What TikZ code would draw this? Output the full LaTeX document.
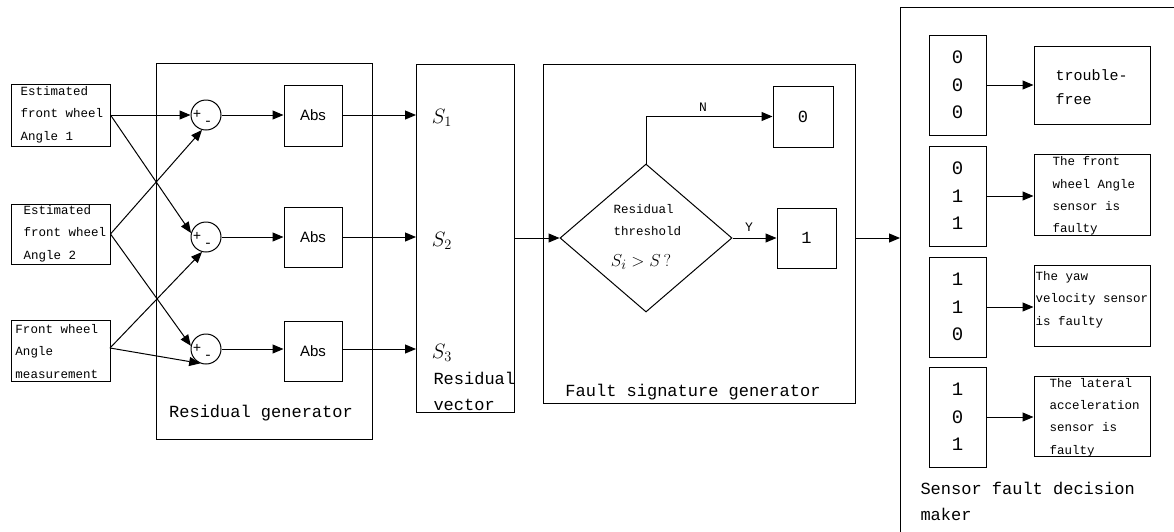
\documentclass[tikz,border=0pt]{standalone}
\usepackage[no-math]{fontspec}
\setmainfont{Liberation Mono}
\newfontfamily\absfont{Liberation Sans}
\usetikzlibrary{shapes.geometric,arrows.meta,calc}
\begin{document}
\begin{tikzpicture}[x=1pt,y=-1pt,line width=1pt,
  box/.style={draw, rectangle, inner sep=0pt},
  arr/.style={-{Triangle[length=11pt,width=9pt]}},
  sm/.style={font=\fontsize{12.5}{22.3}\selectfont, align=left, inner sep=0pt},
  big/.style={font=\fontsize{17}{26}\selectfont, inner sep=0pt},
  sig/.style={font=\fontsize{14}{14}\selectfont, inner sep=0pt},
  slab/.style={font=\fontsize{20}{20}\selectfont, inner sep=0pt}]
\useasboundingbox (0,0) rectangle (1174,531);
\clip (0,0) rectangle (1174,531);

% input boxes
\node[box, minimum width=99pt, minimum height=62pt] (in1) at (60.5,115) {};
\node[sm, anchor=west] (in1t) at (20,114.5) {Estimated\\front wheel\\Angle 1};
\node[box, minimum width=99pt, minimum height=60pt] (in2) at (60.5,234) {};
\node[sm, anchor=west] (in2t) at (23,233.5) {Estimated\\front wheel\\Angle 2};
\node[box, minimum width=99pt, minimum height=61pt] (in3) at (60.5,350.5) {};
\node[sm, anchor=west] (in3t) at (15,351.5) {Front wheel\\Angle\\measurement};

% residual generator
\node[box, minimum width=216pt, minimum height=376pt, anchor=north west] (rg) at (156,63) {};
\node[big] (rgt) at (261,413) {Residual generator};

\foreach \i/\y in {1/115,2/237,3/349}{
  \node[draw, circle, minimum size=30pt, inner sep=0pt] (c\i) at (206,\y) {};
  \node[sig] (p\i) at (197,\y-1) {+};
  \node[sig] (m\i) at (208,\y+8) {-};
}
\node[box, minimum width=58pt, minimum height=61pt, font=\absfont\fontsize{15}{15}\selectfont] (a1) at (313,115.5) {Abs};
\node[box, minimum width=58pt, minimum height=60pt, font=\absfont\fontsize{15}{15}\selectfont] (a2) at (313,237) {Abs};
\node[box, minimum width=58pt, minimum height=60pt, font=\absfont\fontsize{15}{15}\selectfont] (a3) at (313,351) {Abs};

% input connections
\draw[arr] (in1.east) -- (c1.west);
\draw[arr] (in1.east) -- (c2.165);
\draw[arr] (in2.east) -- (c1.-105);
\draw[arr] (in2.east) -- (c3.168);
\coordinate (in3o) at (110,348);
\draw[arr] (in3o) -- (c2.-105);
\draw[arr] (in3o) -- (c3.-112);

\foreach \i in {1,2,3}{
  \draw[arr] (c\i.east) -- (c\i.east -| a\i.west);
}

% residual vector
\node[box, minimum width=98pt, minimum height=348pt, anchor=north west] (rv) at (416,64) {};
\foreach \i in {1,2,3}{
  \draw[arr] (c\i -| a\i.east) -- (c\i -| rv.west);
}
\node[slab] (sl1) at (442,118) {$S_1$};
\node[slab] (sl2) at (442,241) {$S_2$};
\node[slab] (sl3) at (442,353) {$S_3$};
\node[big, align=left, anchor=west] (rvt) at (433,391) {Residual\\vector};

% fault signature generator
\node[box, minimum width=312pt, minimum height=339pt, anchor=north west] (fsg) at (543,64) {};
\node[draw, diamond, minimum width=172pt, minimum height=148pt, inner sep=0pt] (dm) at (646,238) {};
\node[sm, anchor=west] (dmt) at (613,220) {Residual\\threshold};
\node[font=\fontsize{19}{19}\selectfont, inner sep=0pt] (dms) at (641,262) {$S_i > S\,?$};
\node[box, minimum width=60pt, minimum height=61pt, font=\fontsize{17}{17}\selectfont] (b0) at (803,116.5) {0};
\node[box, minimum width=59pt, minimum height=60pt, font=\fontsize{17}{17}\selectfont] (b1) at (806.5,238) {1};
\draw[arr] (dm.north) |- (b0.west);
\node[font=\fontsize{13}{13}\selectfont] (nl) at (703,107) {N};
\draw[arr] (dm.east) -- (b1.west);
\node[font=\fontsize{13}{13}\selectfont] (yl) at (749,227) {Y};
\node[big] (fsgt) at (693,392) {Fault signature generator};
\draw[arr] (rv.east |- dm.west) -- (dm.west);

% sensor fault decision maker
\node[box, minimum width=300pt, minimum height=560pt, anchor=north west] (dk) at (900,7) {};
\draw[arr] (fsg.east |- dm.east) -- (dk.west |- dm.east);
\node[big, align=left, anchor=west] (dkt) at (920,501.5) {Sensor fault decision\\maker};

\node[box, minimum width=57pt, minimum height=100pt, font=\fontsize{19}{27.5}\selectfont, align=center] (k1) at (957.5,85) {0\\0\\0};
\node[box, minimum width=57pt, minimum height=100pt, font=\fontsize{19}{27.5}\selectfont, align=center] (k2) at (957.5,196) {0\\1\\1};
\node[box, minimum width=57pt, minimum height=100pt, font=\fontsize{19}{27.5}\selectfont, align=center] (k3) at (957.5,307) {1\\1\\0};
\node[box, minimum width=57pt, minimum height=100pt, font=\fontsize{19}{27.5}\selectfont, align=center] (k4) at (957.5,417) {1\\0\\1};

\node[box, minimum width=116pt, minimum height=78pt] (d1) at (1092,85) {};
\node[font=\fontsize{15}{24}\selectfont, align=left, anchor=west, inner sep=0pt] (d1t) at (1055,87) {trouble-\\free};
\node[box, minimum width=116pt, minimum height=81pt] (d2) at (1092,194.5) {};
\node[sm, anchor=west] (d2t) at (1052,196) {The front\\wheel Angle\\sensor is\\faulty};
\node[box, minimum width=116pt, minimum height=81pt] (d3) at (1092,305.5) {};
\node[sm, anchor=west] (d3t) at (1035,299.5) {The yaw\\velocity sensor\\is faulty};
\node[box, minimum width=116pt, minimum height=80pt] (d4) at (1092,416) {};
\node[sm, anchor=west] (d4t) at (1049,417.5) {The lateral\\acceleration\\sensor is\\faulty};

\foreach \i in {1,...,4}{
  \draw[arr] (k\i.east) -- (k\i.east -| d\i.west);
}
\end{tikzpicture}
\end{document}
